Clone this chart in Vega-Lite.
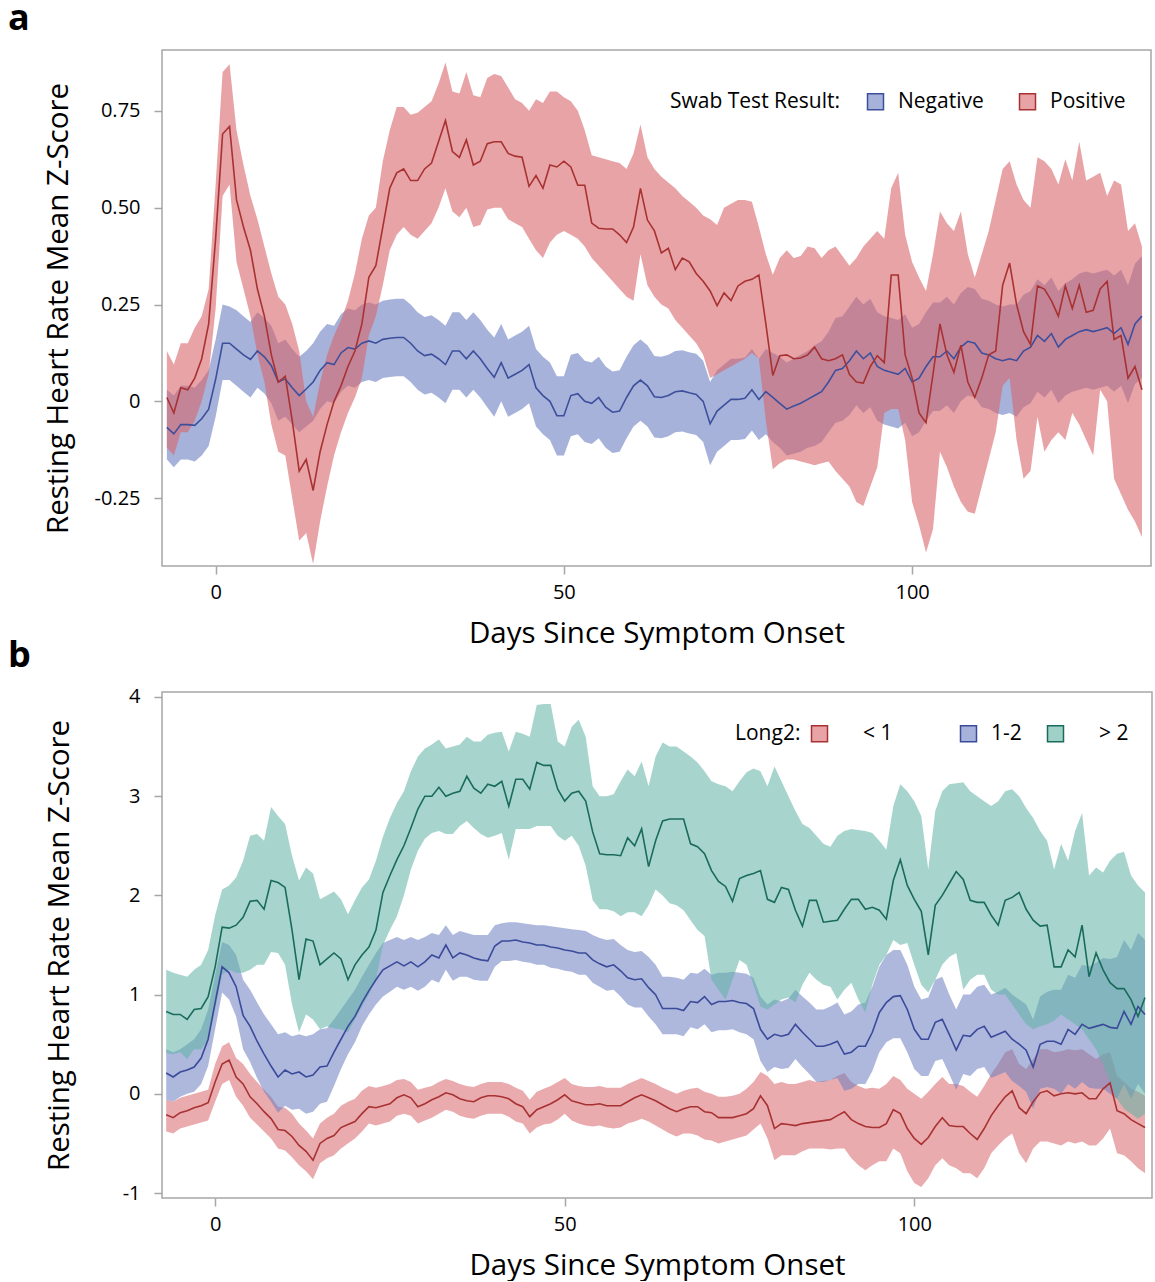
{
"$schema": "https://vega.github.io/schema/vega-lite/v6.json",
"padding": {"left": 7, "top": 0, "right": 0, "bottom": 0},
"background": "white",
"spacing": -12,
"resolve": {"scale": {"fill": "independent", "stroke": "independent", "x": "independent", "y": "independent"}, "legend": {"fill": "independent", "stroke": "independent"}},
"config": {
  "font": "Open Sans",
  "view": {"stroke": "#a6a6a6", "strokeWidth": 1.5},
  "axis": {"domain": false, "grid": false, "tickColor": "#a6a6a6", "tickSize": 8, "tickWidth": 1.5, "labelFontSize": 20, "labelColor": "#000", "titleFontSize": 29.5, "titleFontWeight": "normal", "titleColor": "#000"},
  "axisX": {"labelPadding": 8},
  "axisY": {"labelPadding": 14},
  "legend": {"direction": "horizontal", "titleOrient": "left", "symbolType": "square", "symbolSize": 256, "symbolStrokeWidth": 1.5, "symbolStrokeColor": "#333", "labelFontSize": 21, "titleFontSize": 21, "titleFontWeight": "normal", "titleColor": "#000", "labelColor": "#000", "labelOffset": 12, "orient": "none", "titleLimit": 400, "labelLimit": 300},
  "title": {"fontSize": 36, "fontWeight": "bold", "anchor": "start", "frame": "group", "dx": -154, "offset": 12, "color": "#000"}
},
"datasets": {
"a": [
{"d":-7,"g":"Negative","m":-0.067,"lo":-0.15,"hi":0.03},
{"d":-6,"g":"Negative","m":-0.084,"lo":-0.17,"hi":0.015},
{"d":-5,"g":"Negative","m":-0.06,"lo":-0.15,"hi":0.04},
{"d":-4,"g":"Negative","m":-0.06,"lo":-0.15,"hi":0.04},
{"d":-3,"g":"Negative","m":-0.062,"lo":-0.155,"hi":0.035},
{"d":-2,"g":"Negative","m":-0.045,"lo":-0.14,"hi":0.055},
{"d":-1,"g":"Negative","m":-0.02,"lo":-0.115,"hi":0.08},
{"d":0,"g":"Negative","m":0.057,"lo":-0.04,"hi":0.16},
{"d":1,"g":"Negative","m":0.15,"lo":0.055,"hi":0.25},
{"d":2,"g":"Negative","m":0.15,"lo":0.055,"hi":0.245},
{"d":3,"g":"Negative","m":0.135,"lo":0.04,"hi":0.235},
{"d":4,"g":"Negative","m":0.12,"lo":0.025,"hi":0.22},
{"d":5,"g":"Negative","m":0.108,"lo":0.01,"hi":0.205},
{"d":6,"g":"Negative","m":0.13,"lo":0.035,"hi":0.23},
{"d":7,"g":"Negative","m":0.115,"lo":0.02,"hi":0.215},
{"d":8,"g":"Negative","m":0.092,"lo":-0.005,"hi":0.195},
{"d":9,"g":"Negative","m":0.05,"lo":-0.05,"hi":0.15},
{"d":10,"g":"Negative","m":0.058,"lo":-0.04,"hi":0.16},
{"d":11,"g":"Negative","m":0.035,"lo":-0.06,"hi":0.135},
{"d":12,"g":"Negative","m":0.015,"lo":-0.08,"hi":0.115},
{"d":13,"g":"Negative","m":0.032,"lo":-0.065,"hi":0.13},
{"d":14,"g":"Negative","m":0.05,"lo":-0.05,"hi":0.15},
{"d":15,"g":"Negative","m":0.08,"lo":-0.02,"hi":0.18},
{"d":16,"g":"Negative","m":0.1,"lo":0.0,"hi":0.2},
{"d":17,"g":"Negative","m":0.095,"lo":-0.005,"hi":0.195},
{"d":18,"g":"Negative","m":0.125,"lo":0.025,"hi":0.225},
{"d":19,"g":"Negative","m":0.139,"lo":0.04,"hi":0.24},
{"d":20,"g":"Negative","m":0.135,"lo":0.035,"hi":0.235},
{"d":21,"g":"Negative","m":0.15,"lo":0.05,"hi":0.25},
{"d":22,"g":"Negative","m":0.156,"lo":0.055,"hi":0.255},
{"d":23,"g":"Negative","m":0.15,"lo":0.05,"hi":0.25},
{"d":24,"g":"Negative","m":0.16,"lo":0.06,"hi":0.26},
{"d":25,"g":"Negative","m":0.163,"lo":0.063,"hi":0.263},
{"d":26,"g":"Negative","m":0.165,"lo":0.065,"hi":0.265},
{"d":27,"g":"Negative","m":0.165,"lo":0.065,"hi":0.265},
{"d":28,"g":"Negative","m":0.15,"lo":0.05,"hi":0.25},
{"d":29,"g":"Negative","m":0.13,"lo":0.03,"hi":0.23},
{"d":30,"g":"Negative","m":0.118,"lo":0.018,"hi":0.218},
{"d":31,"g":"Negative","m":0.122,"lo":0.022,"hi":0.222},
{"d":32,"g":"Negative","m":0.11,"lo":0.01,"hi":0.21},
{"d":33,"g":"Negative","m":0.095,"lo":-0.005,"hi":0.195},
{"d":34,"g":"Negative","m":0.13,"lo":0.03,"hi":0.23},
{"d":35,"g":"Negative","m":0.13,"lo":0.03,"hi":0.23},
{"d":36,"g":"Negative","m":0.11,"lo":0.01,"hi":0.21},
{"d":37,"g":"Negative","m":0.13,"lo":0.03,"hi":0.23},
{"d":38,"g":"Negative","m":0.11,"lo":0.01,"hi":0.21},
{"d":39,"g":"Negative","m":0.085,"lo":-0.015,"hi":0.185},
{"d":40,"g":"Negative","m":0.062,"lo":-0.04,"hi":0.165},
{"d":41,"g":"Negative","m":0.1,"lo":0.0,"hi":0.2},
{"d":42,"g":"Negative","m":0.06,"lo":-0.04,"hi":0.16},
{"d":43,"g":"Negative","m":0.07,"lo":-0.03,"hi":0.17},
{"d":44,"g":"Negative","m":0.08,"lo":-0.02,"hi":0.18},
{"d":45,"g":"Negative","m":0.095,"lo":-0.005,"hi":0.195},
{"d":46,"g":"Negative","m":0.035,"lo":-0.065,"hi":0.135},
{"d":47,"g":"Negative","m":0.015,"lo":-0.085,"hi":0.115},
{"d":48,"g":"Negative","m":0.0,"lo":-0.1,"hi":0.1},
{"d":49,"g":"Negative","m":-0.037,"lo":-0.14,"hi":0.065},
{"d":50,"g":"Negative","m":-0.037,"lo":-0.14,"hi":0.065},
{"d":51,"g":"Negative","m":0.015,"lo":-0.09,"hi":0.12},
{"d":52,"g":"Negative","m":0.02,"lo":-0.085,"hi":0.125},
{"d":53,"g":"Negative","m":0.0,"lo":-0.105,"hi":0.105},
{"d":54,"g":"Negative","m":-0.005,"lo":-0.11,"hi":0.1},
{"d":55,"g":"Negative","m":0.01,"lo":-0.095,"hi":0.115},
{"d":56,"g":"Negative","m":-0.015,"lo":-0.12,"hi":0.09},
{"d":57,"g":"Negative","m":-0.028,"lo":-0.133,"hi":0.077},
{"d":58,"g":"Negative","m":-0.025,"lo":-0.13,"hi":0.08},
{"d":59,"g":"Negative","m":0.01,"lo":-0.095,"hi":0.115},
{"d":60,"g":"Negative","m":0.04,"lo":-0.065,"hi":0.145},
{"d":61,"g":"Negative","m":0.055,"lo":-0.05,"hi":0.16},
{"d":62,"g":"Negative","m":0.04,"lo":-0.065,"hi":0.145},
{"d":63,"g":"Negative","m":0.012,"lo":-0.093,"hi":0.117},
{"d":64,"g":"Negative","m":0.01,"lo":-0.095,"hi":0.115},
{"d":65,"g":"Negative","m":0.015,"lo":-0.09,"hi":0.12},
{"d":66,"g":"Negative","m":0.025,"lo":-0.08,"hi":0.13},
{"d":67,"g":"Negative","m":0.027,"lo":-0.078,"hi":0.132},
{"d":68,"g":"Negative","m":0.022,"lo":-0.083,"hi":0.127},
{"d":69,"g":"Negative","m":0.018,"lo":-0.087,"hi":0.123},
{"d":70,"g":"Negative","m":0.0,"lo":-0.105,"hi":0.105},
{"d":71,"g":"Negative","m":-0.058,"lo":-0.165,"hi":0.05},
{"d":72,"g":"Negative","m":-0.025,"lo":-0.13,"hi":0.08},
{"d":73,"g":"Negative","m":-0.01,"lo":-0.115,"hi":0.095},
{"d":74,"g":"Negative","m":0.005,"lo":-0.1,"hi":0.11},
{"d":75,"g":"Negative","m":0.005,"lo":-0.1,"hi":0.11},
{"d":76,"g":"Negative","m":0.008,"lo":-0.097,"hi":0.113},
{"d":77,"g":"Negative","m":0.03,"lo":-0.075,"hi":0.135},
{"d":78,"g":"Negative","m":0.005,"lo":-0.1,"hi":0.11},
{"d":79,"g":"Negative","m":0.025,"lo":-0.085,"hi":0.135},
{"d":80,"g":"Negative","m":0.01,"lo":-0.105,"hi":0.125},
{"d":81,"g":"Negative","m":-0.005,"lo":-0.12,"hi":0.115},
{"d":82,"g":"Negative","m":-0.02,"lo":-0.14,"hi":0.1},
{"d":83,"g":"Negative","m":-0.012,"lo":-0.135,"hi":0.11},
{"d":84,"g":"Negative","m":-0.005,"lo":-0.13,"hi":0.12},
{"d":85,"g":"Negative","m":0.005,"lo":-0.12,"hi":0.13},
{"d":86,"g":"Negative","m":0.015,"lo":-0.115,"hi":0.145},
{"d":87,"g":"Negative","m":0.025,"lo":-0.105,"hi":0.155},
{"d":88,"g":"Negative","m":0.05,"lo":-0.08,"hi":0.18},
{"d":89,"g":"Negative","m":0.08,"lo":-0.055,"hi":0.215},
{"d":90,"g":"Negative","m":0.085,"lo":-0.05,"hi":0.22},
{"d":91,"g":"Negative","m":0.105,"lo":-0.035,"hi":0.245},
{"d":92,"g":"Negative","m":0.13,"lo":-0.01,"hi":0.27},
{"d":93,"g":"Negative","m":0.11,"lo":-0.03,"hi":0.25},
{"d":94,"g":"Negative","m":0.125,"lo":-0.015,"hi":0.265},
{"d":95,"g":"Negative","m":0.09,"lo":-0.05,"hi":0.23},
{"d":96,"g":"Negative","m":0.08,"lo":-0.06,"hi":0.22},
{"d":97,"g":"Negative","m":0.075,"lo":-0.065,"hi":0.215},
{"d":98,"g":"Negative","m":0.07,"lo":-0.07,"hi":0.21},
{"d":99,"g":"Negative","m":0.085,"lo":-0.055,"hi":0.225},
{"d":100,"g":"Negative","m":0.05,"lo":-0.09,"hi":0.19},
{"d":101,"g":"Negative","m":0.06,"lo":-0.08,"hi":0.2},
{"d":102,"g":"Negative","m":0.09,"lo":-0.05,"hi":0.23},
{"d":103,"g":"Negative","m":0.115,"lo":-0.025,"hi":0.255},
{"d":104,"g":"Negative","m":0.115,"lo":-0.025,"hi":0.255},
{"d":105,"g":"Negative","m":0.13,"lo":-0.01,"hi":0.27},
{"d":106,"g":"Negative","m":0.11,"lo":-0.03,"hi":0.25},
{"d":107,"g":"Negative","m":0.14,"lo":0.0,"hi":0.28},
{"d":108,"g":"Negative","m":0.155,"lo":0.015,"hi":0.295},
{"d":109,"g":"Negative","m":0.15,"lo":0.01,"hi":0.29},
{"d":110,"g":"Negative","m":0.125,"lo":-0.015,"hi":0.265},
{"d":111,"g":"Negative","m":0.12,"lo":-0.02,"hi":0.26},
{"d":112,"g":"Negative","m":0.11,"lo":-0.03,"hi":0.25},
{"d":113,"g":"Negative","m":0.105,"lo":-0.035,"hi":0.245},
{"d":114,"g":"Negative","m":0.11,"lo":-0.03,"hi":0.25},
{"d":115,"g":"Negative","m":0.105,"lo":-0.04,"hi":0.25},
{"d":116,"g":"Negative","m":0.13,"lo":-0.015,"hi":0.275},
{"d":117,"g":"Negative","m":0.14,"lo":-0.005,"hi":0.285},
{"d":118,"g":"Negative","m":0.17,"lo":0.025,"hi":0.315},
{"d":119,"g":"Negative","m":0.155,"lo":0.01,"hi":0.3},
{"d":120,"g":"Negative","m":0.175,"lo":0.03,"hi":0.32},
{"d":121,"g":"Negative","m":0.14,"lo":-0.005,"hi":0.285},
{"d":122,"g":"Negative","m":0.16,"lo":0.015,"hi":0.305},
{"d":123,"g":"Negative","m":0.17,"lo":0.025,"hi":0.315},
{"d":124,"g":"Negative","m":0.18,"lo":0.03,"hi":0.33},
{"d":125,"g":"Negative","m":0.185,"lo":0.035,"hi":0.335},
{"d":126,"g":"Negative","m":0.18,"lo":0.03,"hi":0.33},
{"d":127,"g":"Negative","m":0.185,"lo":0.035,"hi":0.335},
{"d":128,"g":"Negative","m":0.19,"lo":0.04,"hi":0.34},
{"d":129,"g":"Negative","m":0.175,"lo":0.025,"hi":0.325},
{"d":130,"g":"Negative","m":0.19,"lo":0.04,"hi":0.34},
{"d":131,"g":"Negative","m":0.147,"lo":-0.005,"hi":0.3},
{"d":132,"g":"Negative","m":0.2,"lo":0.045,"hi":0.355},
{"d":133,"g":"Negative","m":0.22,"lo":0.06,"hi":0.375},
{"d":-7,"g":"Positive","m":0.01,"lo":-0.12,"hi":0.13},
{"d":-6,"g":"Positive","m":-0.03,"lo":-0.14,"hi":0.095},
{"d":-5,"g":"Positive","m":0.035,"lo":-0.08,"hi":0.15},
{"d":-4,"g":"Positive","m":0.03,"lo":-0.08,"hi":0.15},
{"d":-3,"g":"Positive","m":0.06,"lo":-0.05,"hi":0.19},
{"d":-2,"g":"Positive","m":0.11,"lo":0.0,"hi":0.22},
{"d":-1,"g":"Positive","m":0.2,"lo":0.07,"hi":0.29},
{"d":0,"g":"Positive","m":0.42,"lo":0.24,"hi":0.56},
{"d":1,"g":"Positive","m":0.69,"lo":0.53,"hi":0.85},
{"d":2,"g":"Positive","m":0.71,"lo":0.56,"hi":0.87},
{"d":3,"g":"Positive","m":0.52,"lo":0.36,"hi":0.7},
{"d":4,"g":"Positive","m":0.45,"lo":0.29,"hi":0.61},
{"d":5,"g":"Positive","m":0.39,"lo":0.22,"hi":0.53},
{"d":6,"g":"Positive","m":0.29,"lo":0.12,"hi":0.47},
{"d":7,"g":"Positive","m":0.22,"lo":0.05,"hi":0.4},
{"d":8,"g":"Positive","m":0.12,"lo":-0.06,"hi":0.33},
{"d":9,"g":"Positive","m":0.05,"lo":-0.13,"hi":0.27},
{"d":10,"g":"Positive","m":0.065,"lo":-0.14,"hi":0.25},
{"d":11,"g":"Positive","m":-0.05,"lo":-0.25,"hi":0.2},
{"d":12,"g":"Positive","m":-0.18,"lo":-0.36,"hi":0.13},
{"d":13,"g":"Positive","m":-0.15,"lo":-0.34,"hi":0.0},
{"d":14,"g":"Positive","m":-0.23,"lo":-0.42,"hi":-0.04},
{"d":15,"g":"Positive","m":-0.13,"lo":-0.31,"hi":0.05},
{"d":16,"g":"Positive","m":-0.06,"lo":-0.22,"hi":0.12},
{"d":17,"g":"Positive","m":0.0,"lo":-0.14,"hi":0.17},
{"d":18,"g":"Positive","m":0.04,"lo":-0.08,"hi":0.21},
{"d":19,"g":"Positive","m":0.09,"lo":-0.03,"hi":0.26},
{"d":20,"g":"Positive","m":0.13,"lo":0.01,"hi":0.33},
{"d":21,"g":"Positive","m":0.2,"lo":0.06,"hi":0.42},
{"d":22,"g":"Positive","m":0.32,"lo":0.17,"hi":0.48},
{"d":23,"g":"Positive","m":0.35,"lo":0.22,"hi":0.5},
{"d":24,"g":"Positive","m":0.45,"lo":0.3,"hi":0.62},
{"d":25,"g":"Positive","m":0.55,"lo":0.39,"hi":0.7},
{"d":26,"g":"Positive","m":0.59,"lo":0.43,"hi":0.76},
{"d":27,"g":"Positive","m":0.6,"lo":0.45,"hi":0.76},
{"d":28,"g":"Positive","m":0.57,"lo":0.43,"hi":0.74},
{"d":29,"g":"Positive","m":0.57,"lo":0.42,"hi":0.745},
{"d":30,"g":"Positive","m":0.6,"lo":0.44,"hi":0.76},
{"d":31,"g":"Positive","m":0.615,"lo":0.46,"hi":0.775},
{"d":32,"g":"Positive","m":0.67,"lo":0.5,"hi":0.82},
{"d":33,"g":"Positive","m":0.725,"lo":0.55,"hi":0.875},
{"d":34,"g":"Positive","m":0.645,"lo":0.49,"hi":0.8},
{"d":35,"g":"Positive","m":0.63,"lo":0.475,"hi":0.795},
{"d":36,"g":"Positive","m":0.675,"lo":0.5,"hi":0.85},
{"d":37,"g":"Positive","m":0.61,"lo":0.45,"hi":0.79},
{"d":38,"g":"Positive","m":0.62,"lo":0.455,"hi":0.785},
{"d":39,"g":"Positive","m":0.665,"lo":0.495,"hi":0.835},
{"d":40,"g":"Positive","m":0.67,"lo":0.5,"hi":0.845},
{"d":41,"g":"Positive","m":0.67,"lo":0.5,"hi":0.84},
{"d":42,"g":"Positive","m":0.64,"lo":0.47,"hi":0.81},
{"d":43,"g":"Positive","m":0.633,"lo":0.46,"hi":0.78},
{"d":44,"g":"Positive","m":0.63,"lo":0.45,"hi":0.77},
{"d":45,"g":"Positive","m":0.555,"lo":0.42,"hi":0.75},
{"d":46,"g":"Positive","m":0.583,"lo":0.39,"hi":0.78},
{"d":47,"g":"Positive","m":0.55,"lo":0.37,"hi":0.77},
{"d":48,"g":"Positive","m":0.61,"lo":0.41,"hi":0.8},
{"d":49,"g":"Positive","m":0.605,"lo":0.43,"hi":0.8},
{"d":50,"g":"Positive","m":0.62,"lo":0.44,"hi":0.785},
{"d":51,"g":"Positive","m":0.605,"lo":0.43,"hi":0.775},
{"d":52,"g":"Positive","m":0.558,"lo":0.42,"hi":0.75},
{"d":53,"g":"Positive","m":0.558,"lo":0.4,"hi":0.7},
{"d":54,"g":"Positive","m":0.46,"lo":0.37,"hi":0.635},
{"d":55,"g":"Positive","m":0.447,"lo":0.35,"hi":0.63},
{"d":56,"g":"Positive","m":0.445,"lo":0.33,"hi":0.625},
{"d":57,"g":"Positive","m":0.445,"lo":0.31,"hi":0.62},
{"d":58,"g":"Positive","m":0.43,"lo":0.29,"hi":0.615},
{"d":59,"g":"Positive","m":0.41,"lo":0.27,"hi":0.6},
{"d":60,"g":"Positive","m":0.45,"lo":0.26,"hi":0.64},
{"d":61,"g":"Positive","m":0.55,"lo":0.38,"hi":0.715},
{"d":62,"g":"Positive","m":0.468,"lo":0.3,"hi":0.63},
{"d":63,"g":"Positive","m":0.44,"lo":0.27,"hi":0.6},
{"d":64,"g":"Positive","m":0.383,"lo":0.25,"hi":0.58},
{"d":65,"g":"Positive","m":0.395,"lo":0.24,"hi":0.565},
{"d":66,"g":"Positive","m":0.34,"lo":0.21,"hi":0.55},
{"d":67,"g":"Positive","m":0.37,"lo":0.19,"hi":0.53},
{"d":68,"g":"Positive","m":0.36,"lo":0.17,"hi":0.515},
{"d":69,"g":"Positive","m":0.33,"lo":0.15,"hi":0.5},
{"d":70,"g":"Positive","m":0.31,"lo":0.12,"hi":0.48},
{"d":71,"g":"Positive","m":0.285,"lo":0.06,"hi":0.47},
{"d":72,"g":"Positive","m":0.247,"lo":0.07,"hi":0.455},
{"d":73,"g":"Positive","m":0.28,"lo":0.08,"hi":0.5},
{"d":74,"g":"Positive","m":0.26,"lo":0.09,"hi":0.51},
{"d":75,"g":"Positive","m":0.298,"lo":0.1,"hi":0.52},
{"d":76,"g":"Positive","m":0.31,"lo":0.11,"hi":0.52},
{"d":77,"g":"Positive","m":0.315,"lo":0.125,"hi":0.515},
{"d":78,"g":"Positive","m":0.326,"lo":0.11,"hi":0.45},
{"d":79,"g":"Positive","m":0.2,"lo":-0.05,"hi":0.38},
{"d":80,"g":"Positive","m":0.067,"lo":-0.175,"hi":0.327},
{"d":81,"g":"Positive","m":0.118,"lo":-0.16,"hi":0.37},
{"d":82,"g":"Positive","m":0.12,"lo":-0.15,"hi":0.39},
{"d":83,"g":"Positive","m":0.11,"lo":-0.15,"hi":0.37},
{"d":84,"g":"Positive","m":0.112,"lo":-0.155,"hi":0.375},
{"d":85,"g":"Positive","m":0.12,"lo":-0.16,"hi":0.4},
{"d":86,"g":"Positive","m":0.14,"lo":-0.165,"hi":0.395},
{"d":87,"g":"Positive","m":0.11,"lo":-0.16,"hi":0.37},
{"d":88,"g":"Positive","m":0.105,"lo":-0.155,"hi":0.39},
{"d":89,"g":"Positive","m":0.11,"lo":-0.18,"hi":0.4},
{"d":90,"g":"Positive","m":0.12,"lo":-0.2,"hi":0.375},
{"d":91,"g":"Positive","m":0.07,"lo":-0.22,"hi":0.35},
{"d":92,"g":"Positive","m":0.05,"lo":-0.26,"hi":0.37},
{"d":93,"g":"Positive","m":0.047,"lo":-0.27,"hi":0.4},
{"d":94,"g":"Positive","m":0.09,"lo":-0.22,"hi":0.42},
{"d":95,"g":"Positive","m":0.118,"lo":-0.17,"hi":0.44},
{"d":96,"g":"Positive","m":0.1,"lo":-0.03,"hi":0.42},
{"d":97,"g":"Positive","m":0.326,"lo":-0.02,"hi":0.55},
{"d":98,"g":"Positive","m":0.326,"lo":-0.02,"hi":0.59},
{"d":99,"g":"Positive","m":0.12,"lo":-0.1,"hi":0.43},
{"d":100,"g":"Positive","m":0.06,"lo":-0.26,"hi":0.36},
{"d":101,"g":"Positive","m":-0.03,"lo":-0.32,"hi":0.32},
{"d":102,"g":"Positive","m":-0.055,"lo":-0.39,"hi":0.285},
{"d":103,"g":"Positive","m":0.07,"lo":-0.33,"hi":0.38},
{"d":104,"g":"Positive","m":0.2,"lo":-0.13,"hi":0.49},
{"d":105,"g":"Positive","m":0.12,"lo":-0.17,"hi":0.46},
{"d":106,"g":"Positive","m":0.075,"lo":-0.22,"hi":0.44},
{"d":107,"g":"Positive","m":0.145,"lo":-0.26,"hi":0.49},
{"d":108,"g":"Positive","m":0.05,"lo":-0.285,"hi":0.38},
{"d":109,"g":"Positive","m":0.01,"lo":-0.29,"hi":0.32},
{"d":110,"g":"Positive","m":0.06,"lo":-0.22,"hi":0.38},
{"d":111,"g":"Positive","m":0.12,"lo":-0.15,"hi":0.44},
{"d":112,"g":"Positive","m":0.13,"lo":-0.08,"hi":0.52},
{"d":113,"g":"Positive","m":0.3,"lo":0.04,"hi":0.6},
{"d":114,"g":"Positive","m":0.357,"lo":0.06,"hi":0.62},
{"d":115,"g":"Positive","m":0.25,"lo":-0.1,"hi":0.56},
{"d":116,"g":"Positive","m":0.18,"lo":-0.2,"hi":0.52},
{"d":117,"g":"Positive","m":0.147,"lo":-0.18,"hi":0.5},
{"d":118,"g":"Positive","m":0.298,"lo":-0.04,"hi":0.63},
{"d":119,"g":"Positive","m":0.29,"lo":-0.13,"hi":0.62},
{"d":120,"g":"Positive","m":0.26,"lo":-0.1,"hi":0.6},
{"d":121,"g":"Positive","m":0.22,"lo":-0.08,"hi":0.56},
{"d":122,"g":"Positive","m":0.298,"lo":-0.1,"hi":0.625},
{"d":123,"g":"Positive","m":0.24,"lo":-0.03,"hi":0.57},
{"d":124,"g":"Positive","m":0.3,"lo":-0.06,"hi":0.67},
{"d":125,"g":"Positive","m":0.23,"lo":-0.1,"hi":0.57},
{"d":126,"g":"Positive","m":0.235,"lo":-0.14,"hi":0.58},
{"d":127,"g":"Positive","m":0.29,"lo":0.03,"hi":0.59},
{"d":128,"g":"Positive","m":0.31,"lo":0.0,"hi":0.53},
{"d":129,"g":"Positive","m":0.16,"lo":-0.2,"hi":0.57},
{"d":130,"g":"Positive","m":0.17,"lo":-0.24,"hi":0.56},
{"d":131,"g":"Positive","m":0.06,"lo":-0.28,"hi":0.44},
{"d":132,"g":"Positive","m":0.09,"lo":-0.31,"hi":0.46},
{"d":133,"g":"Positive","m":0.03,"lo":-0.35,"hi":0.4}
],
"b": [
{"d":-7,"g":"< 1","m":-0.21,"lo":-0.38,"hi":-0.06},
{"d":-6,"g":"< 1","m":-0.24,"lo":-0.4,"hi":-0.08},
{"d":-5,"g":"< 1","m":-0.19,"lo":-0.35,"hi":-0.04},
{"d":-4,"g":"< 1","m":-0.17,"lo":-0.33,"hi":-0.02},
{"d":-3,"g":"< 1","m":-0.14,"lo":-0.31,"hi":0.0},
{"d":-2,"g":"< 1","m":-0.12,"lo":-0.29,"hi":0.02},
{"d":-1,"g":"< 1","m":-0.09,"lo":-0.27,"hi":0.04},
{"d":0,"g":"< 1","m":0.12,"lo":-0.08,"hi":0.3},
{"d":1,"g":"< 1","m":0.3,"lo":0.1,"hi":0.48},
{"d":2,"g":"< 1","m":0.34,"lo":0.14,"hi":0.52},
{"d":3,"g":"< 1","m":0.17,"lo":-0.03,"hi":0.36},
{"d":4,"g":"< 1","m":0.1,"lo":-0.12,"hi":0.3},
{"d":5,"g":"< 1","m":-0.03,"lo":-0.24,"hi":0.2},
{"d":6,"g":"< 1","m":-0.1,"lo":-0.31,"hi":0.12},
{"d":7,"g":"< 1","m":-0.18,"lo":-0.38,"hi":0.04},
{"d":8,"g":"< 1","m":-0.25,"lo":-0.45,"hi":-0.03},
{"d":9,"g":"< 1","m":-0.36,"lo":-0.55,"hi":-0.13},
{"d":10,"g":"< 1","m":-0.37,"lo":-0.57,"hi":-0.14},
{"d":11,"g":"< 1","m":-0.43,"lo":-0.64,"hi":-0.2},
{"d":12,"g":"< 1","m":-0.52,"lo":-0.72,"hi":-0.3},
{"d":13,"g":"< 1","m":-0.58,"lo":-0.78,"hi":-0.37},
{"d":14,"g":"< 1","m":-0.67,"lo":-0.86,"hi":-0.45},
{"d":15,"g":"< 1","m":-0.5,"lo":-0.7,"hi":-0.3},
{"d":16,"g":"< 1","m":-0.45,"lo":-0.65,"hi":-0.24},
{"d":17,"g":"< 1","m":-0.42,"lo":-0.62,"hi":-0.2},
{"d":18,"g":"< 1","m":-0.34,"lo":-0.55,"hi":-0.12},
{"d":19,"g":"< 1","m":-0.31,"lo":-0.5,"hi":-0.08},
{"d":20,"g":"< 1","m":-0.28,"lo":-0.45,"hi":-0.05},
{"d":21,"g":"< 1","m":-0.2,"lo":-0.38,"hi":0.03},
{"d":22,"g":"< 1","m":-0.13,"lo":-0.3,"hi":0.08},
{"d":23,"g":"< 1","m":-0.14,"lo":-0.32,"hi":0.06},
{"d":24,"g":"< 1","m":-0.12,"lo":-0.3,"hi":0.08},
{"d":25,"g":"< 1","m":-0.1,"lo":-0.28,"hi":0.1},
{"d":26,"g":"< 1","m":-0.04,"lo":-0.22,"hi":0.14},
{"d":27,"g":"< 1","m":-0.01,"lo":-0.2,"hi":0.15},
{"d":28,"g":"< 1","m":-0.04,"lo":-0.22,"hi":0.12},
{"d":29,"g":"< 1","m":-0.13,"lo":-0.3,"hi":0.04},
{"d":30,"g":"< 1","m":-0.1,"lo":-0.27,"hi":0.06},
{"d":31,"g":"< 1","m":-0.06,"lo":-0.24,"hi":0.08},
{"d":32,"g":"< 1","m":-0.03,"lo":-0.2,"hi":0.12},
{"d":33,"g":"< 1","m":0.01,"lo":-0.16,"hi":0.15},
{"d":34,"g":"< 1","m":-0.01,"lo":-0.18,"hi":0.13},
{"d":35,"g":"< 1","m":-0.05,"lo":-0.22,"hi":0.1},
{"d":36,"g":"< 1","m":-0.07,"lo":-0.24,"hi":0.08},
{"d":37,"g":"< 1","m":-0.08,"lo":-0.25,"hi":0.07},
{"d":38,"g":"< 1","m":-0.04,"lo":-0.22,"hi":0.1},
{"d":39,"g":"< 1","m":-0.02,"lo":-0.2,"hi":0.12},
{"d":40,"g":"< 1","m":-0.02,"lo":-0.2,"hi":0.12},
{"d":41,"g":"< 1","m":-0.03,"lo":-0.2,"hi":0.12},
{"d":42,"g":"< 1","m":-0.05,"lo":-0.23,"hi":0.1},
{"d":43,"g":"< 1","m":-0.1,"lo":-0.28,"hi":0.06},
{"d":44,"g":"< 1","m":-0.13,"lo":-0.3,"hi":0.03},
{"d":45,"g":"< 1","m":-0.23,"lo":-0.4,"hi":-0.06},
{"d":46,"g":"< 1","m":-0.16,"lo":-0.34,"hi":0.02},
{"d":47,"g":"< 1","m":-0.13,"lo":-0.31,"hi":0.05},
{"d":48,"g":"< 1","m":-0.1,"lo":-0.3,"hi":0.08},
{"d":49,"g":"< 1","m":-0.06,"lo":-0.26,"hi":0.12},
{"d":50,"g":"< 1","m":-0.01,"lo":-0.2,"hi":0.16},
{"d":51,"g":"< 1","m":-0.07,"lo":-0.27,"hi":0.1},
{"d":52,"g":"< 1","m":-0.09,"lo":-0.3,"hi":0.08},
{"d":53,"g":"< 1","m":-0.11,"lo":-0.32,"hi":0.07},
{"d":54,"g":"< 1","m":-0.11,"lo":-0.33,"hi":0.07},
{"d":55,"g":"< 1","m":-0.1,"lo":-0.32,"hi":0.08},
{"d":56,"g":"< 1","m":-0.12,"lo":-0.34,"hi":0.06},
{"d":57,"g":"< 1","m":-0.12,"lo":-0.35,"hi":0.06},
{"d":58,"g":"< 1","m":-0.12,"lo":-0.34,"hi":0.06},
{"d":59,"g":"< 1","m":-0.08,"lo":-0.3,"hi":0.1},
{"d":60,"g":"< 1","m":-0.04,"lo":-0.28,"hi":0.13},
{"d":61,"g":"< 1","m":-0.01,"lo":-0.25,"hi":0.16},
{"d":62,"g":"< 1","m":-0.04,"lo":-0.28,"hi":0.13},
{"d":63,"g":"< 1","m":-0.07,"lo":-0.32,"hi":0.1},
{"d":64,"g":"< 1","m":-0.11,"lo":-0.36,"hi":0.06},
{"d":65,"g":"< 1","m":-0.15,"lo":-0.4,"hi":0.03},
{"d":66,"g":"< 1","m":-0.18,"lo":-0.43,"hi":0.0},
{"d":67,"g":"< 1","m":-0.15,"lo":-0.4,"hi":0.03},
{"d":68,"g":"< 1","m":-0.13,"lo":-0.4,"hi":0.05},
{"d":69,"g":"< 1","m":-0.13,"lo":-0.42,"hi":0.06},
{"d":70,"g":"< 1","m":-0.18,"lo":-0.46,"hi":0.02},
{"d":71,"g":"< 1","m":-0.19,"lo":-0.47,"hi":0.0},
{"d":72,"g":"< 1","m":-0.24,"lo":-0.5,"hi":-0.03},
{"d":73,"g":"< 1","m":-0.24,"lo":-0.48,"hi":-0.03},
{"d":74,"g":"< 1","m":-0.24,"lo":-0.46,"hi":-0.02},
{"d":75,"g":"< 1","m":-0.22,"lo":-0.44,"hi":0.0},
{"d":76,"g":"< 1","m":-0.2,"lo":-0.42,"hi":0.05},
{"d":77,"g":"< 1","m":-0.15,"lo":-0.36,"hi":0.12},
{"d":78,"g":"< 1","m":-0.02,"lo":-0.3,"hi":0.22},
{"d":79,"g":"< 1","m":-0.12,"lo":-0.45,"hi":0.18},
{"d":80,"g":"< 1","m":-0.35,"lo":-0.67,"hi":0.1},
{"d":81,"g":"< 1","m":-0.3,"lo":-0.62,"hi":0.12},
{"d":82,"g":"< 1","m":-0.31,"lo":-0.62,"hi":0.1},
{"d":83,"g":"< 1","m":-0.32,"lo":-0.62,"hi":0.1},
{"d":84,"g":"< 1","m":-0.3,"lo":-0.58,"hi":0.12},
{"d":85,"g":"< 1","m":-0.29,"lo":-0.55,"hi":0.14},
{"d":86,"g":"< 1","m":-0.28,"lo":-0.55,"hi":0.12},
{"d":87,"g":"< 1","m":-0.27,"lo":-0.55,"hi":0.13},
{"d":88,"g":"< 1","m":-0.26,"lo":-0.56,"hi":0.14},
{"d":89,"g":"< 1","m":-0.22,"lo":-0.55,"hi":0.18},
{"d":90,"g":"< 1","m":-0.18,"lo":-0.55,"hi":0.21},
{"d":91,"g":"< 1","m":-0.26,"lo":-0.65,"hi":0.12},
{"d":92,"g":"< 1","m":-0.3,"lo":-0.72,"hi":0.08},
{"d":93,"g":"< 1","m":-0.33,"lo":-0.77,"hi":0.05},
{"d":94,"g":"< 1","m":-0.34,"lo":-0.72,"hi":0.06},
{"d":95,"g":"< 1","m":-0.34,"lo":-0.68,"hi":0.05},
{"d":96,"g":"< 1","m":-0.3,"lo":-0.68,"hi":0.1},
{"d":97,"g":"< 1","m":-0.16,"lo":-0.55,"hi":0.18},
{"d":98,"g":"< 1","m":-0.2,"lo":-0.6,"hi":0.14},
{"d":99,"g":"< 1","m":-0.35,"lo":-0.78,"hi":0.05},
{"d":100,"g":"< 1","m":-0.45,"lo":-0.9,"hi":0.0},
{"d":101,"g":"< 1","m":-0.51,"lo":-0.94,"hi":-0.05},
{"d":102,"g":"< 1","m":-0.44,"lo":-0.85,"hi":0.02},
{"d":103,"g":"< 1","m":-0.33,"lo":-0.72,"hi":0.1},
{"d":104,"g":"< 1","m":-0.24,"lo":-0.65,"hi":0.17},
{"d":105,"g":"< 1","m":-0.32,"lo":-0.72,"hi":0.1},
{"d":106,"g":"< 1","m":-0.33,"lo":-0.75,"hi":0.1},
{"d":107,"g":"< 1","m":-0.33,"lo":-0.8,"hi":0.08},
{"d":108,"g":"< 1","m":-0.4,"lo":-0.8,"hi":0.02},
{"d":109,"g":"< 1","m":-0.46,"lo":-0.85,"hi":-0.03},
{"d":110,"g":"< 1","m":-0.35,"lo":-0.75,"hi":0.08},
{"d":111,"g":"< 1","m":-0.22,"lo":-0.6,"hi":0.2},
{"d":112,"g":"< 1","m":-0.12,"lo":-0.52,"hi":0.3},
{"d":113,"g":"< 1","m":-0.03,"lo":-0.45,"hi":0.42},
{"d":114,"g":"< 1","m":0.03,"lo":-0.4,"hi":0.45},
{"d":115,"g":"< 1","m":-0.14,"lo":-0.6,"hi":0.3},
{"d":116,"g":"< 1","m":-0.2,"lo":-0.7,"hi":0.25},
{"d":117,"g":"< 1","m":-0.08,"lo":-0.55,"hi":0.35},
{"d":118,"g":"< 1","m":0.01,"lo":-0.48,"hi":0.45},
{"d":119,"g":"< 1","m":0.03,"lo":-0.48,"hi":0.45},
{"d":120,"g":"< 1","m":-0.02,"lo":-0.5,"hi":0.42},
{"d":121,"g":"< 1","m":0.0,"lo":-0.52,"hi":0.43},
{"d":122,"g":"< 1","m":0.01,"lo":-0.48,"hi":0.45},
{"d":123,"g":"< 1","m":0.0,"lo":-0.5,"hi":0.44},
{"d":124,"g":"< 1","m":0.01,"lo":-0.48,"hi":0.45},
{"d":125,"g":"< 1","m":-0.05,"lo":-0.52,"hi":0.4},
{"d":126,"g":"< 1","m":-0.05,"lo":-0.52,"hi":0.35},
{"d":127,"g":"< 1","m":0.05,"lo":-0.45,"hi":0.4},
{"d":128,"g":"< 1","m":0.11,"lo":-0.35,"hi":0.42},
{"d":129,"g":"< 1","m":-0.17,"lo":-0.6,"hi":0.18},
{"d":130,"g":"< 1","m":-0.2,"lo":-0.62,"hi":0.12},
{"d":131,"g":"< 1","m":-0.26,"lo":-0.68,"hi":0.05},
{"d":132,"g":"< 1","m":-0.3,"lo":-0.75,"hi":0.02},
{"d":133,"g":"< 1","m":-0.34,"lo":-0.8,"hi":-0.02},
{"d":-7,"g":"1-2","m":0.21,"lo":-0.06,"hi":0.45},
{"d":-6,"g":"1-2","m":0.17,"lo":-0.08,"hi":0.42},
{"d":-5,"g":"1-2","m":0.22,"lo":-0.03,"hi":0.45},
{"d":-4,"g":"1-2","m":0.24,"lo":0.0,"hi":0.5},
{"d":-3,"g":"1-2","m":0.27,"lo":0.02,"hi":0.55},
{"d":-2,"g":"1-2","m":0.36,"lo":0.1,"hi":0.65},
{"d":-1,"g":"1-2","m":0.55,"lo":0.28,"hi":0.85},
{"d":0,"g":"1-2","m":0.92,"lo":0.65,"hi":1.2},
{"d":1,"g":"1-2","m":1.28,"lo":1.02,"hi":1.53},
{"d":2,"g":"1-2","m":1.22,"lo":0.95,"hi":1.5},
{"d":3,"g":"1-2","m":1.08,"lo":0.78,"hi":1.4},
{"d":4,"g":"1-2","m":0.79,"lo":0.45,"hi":1.15},
{"d":5,"g":"1-2","m":0.68,"lo":0.32,"hi":1.05},
{"d":6,"g":"1-2","m":0.53,"lo":0.16,"hi":0.92},
{"d":7,"g":"1-2","m":0.4,"lo":0.02,"hi":0.8},
{"d":8,"g":"1-2","m":0.28,"lo":-0.08,"hi":0.7},
{"d":9,"g":"1-2","m":0.17,"lo":-0.19,"hi":0.6},
{"d":10,"g":"1-2","m":0.24,"lo":-0.12,"hi":0.62},
{"d":11,"g":"1-2","m":0.2,"lo":-0.16,"hi":0.58},
{"d":12,"g":"1-2","m":0.22,"lo":-0.15,"hi":0.6},
{"d":13,"g":"1-2","m":0.17,"lo":-0.2,"hi":0.58},
{"d":14,"g":"1-2","m":0.19,"lo":-0.18,"hi":0.6},
{"d":15,"g":"1-2","m":0.27,"lo":-0.1,"hi":0.65},
{"d":16,"g":"1-2","m":0.28,"lo":-0.08,"hi":0.66},
{"d":17,"g":"1-2","m":0.42,"lo":0.08,"hi":0.75},
{"d":18,"g":"1-2","m":0.55,"lo":0.25,"hi":0.85},
{"d":19,"g":"1-2","m":0.68,"lo":0.4,"hi":0.95},
{"d":20,"g":"1-2","m":0.78,"lo":0.52,"hi":1.05},
{"d":21,"g":"1-2","m":0.92,"lo":0.68,"hi":1.18},
{"d":22,"g":"1-2","m":1.04,"lo":0.8,"hi":1.3},
{"d":23,"g":"1-2","m":1.15,"lo":0.9,"hi":1.42},
{"d":24,"g":"1-2","m":1.25,"lo":0.98,"hi":1.52},
{"d":25,"g":"1-2","m":1.29,"lo":1.03,"hi":1.55},
{"d":26,"g":"1-2","m":1.33,"lo":1.08,"hi":1.58},
{"d":27,"g":"1-2","m":1.29,"lo":1.05,"hi":1.55},
{"d":28,"g":"1-2","m":1.33,"lo":1.08,"hi":1.58},
{"d":29,"g":"1-2","m":1.28,"lo":1.04,"hi":1.55},
{"d":30,"g":"1-2","m":1.33,"lo":1.08,"hi":1.58},
{"d":31,"g":"1-2","m":1.4,"lo":1.15,"hi":1.62},
{"d":32,"g":"1-2","m":1.37,"lo":1.12,"hi":1.6},
{"d":33,"g":"1-2","m":1.5,"lo":1.25,"hi":1.7},
{"d":34,"g":"1-2","m":1.37,"lo":1.14,"hi":1.6},
{"d":35,"g":"1-2","m":1.42,"lo":1.18,"hi":1.64},
{"d":36,"g":"1-2","m":1.4,"lo":1.18,"hi":1.62},
{"d":37,"g":"1-2","m":1.37,"lo":1.15,"hi":1.6},
{"d":38,"g":"1-2","m":1.35,"lo":1.14,"hi":1.6},
{"d":39,"g":"1-2","m":1.34,"lo":1.14,"hi":1.6},
{"d":40,"g":"1-2","m":1.49,"lo":1.28,"hi":1.7},
{"d":41,"g":"1-2","m":1.54,"lo":1.34,"hi":1.72},
{"d":42,"g":"1-2","m":1.54,"lo":1.34,"hi":1.73},
{"d":43,"g":"1-2","m":1.55,"lo":1.35,"hi":1.73},
{"d":44,"g":"1-2","m":1.53,"lo":1.33,"hi":1.72},
{"d":45,"g":"1-2","m":1.52,"lo":1.32,"hi":1.71},
{"d":46,"g":"1-2","m":1.5,"lo":1.3,"hi":1.7},
{"d":47,"g":"1-2","m":1.5,"lo":1.3,"hi":1.7},
{"d":48,"g":"1-2","m":1.48,"lo":1.27,"hi":1.69},
{"d":49,"g":"1-2","m":1.47,"lo":1.26,"hi":1.68},
{"d":50,"g":"1-2","m":1.45,"lo":1.24,"hi":1.67},
{"d":51,"g":"1-2","m":1.44,"lo":1.23,"hi":1.66},
{"d":52,"g":"1-2","m":1.42,"lo":1.2,"hi":1.65},
{"d":53,"g":"1-2","m":1.42,"lo":1.2,"hi":1.64},
{"d":54,"g":"1-2","m":1.35,"lo":1.12,"hi":1.6},
{"d":55,"g":"1-2","m":1.31,"lo":1.08,"hi":1.57},
{"d":56,"g":"1-2","m":1.28,"lo":1.04,"hi":1.55},
{"d":57,"g":"1-2","m":1.3,"lo":1.05,"hi":1.56},
{"d":58,"g":"1-2","m":1.24,"lo":0.98,"hi":1.5},
{"d":59,"g":"1-2","m":1.17,"lo":0.9,"hi":1.45},
{"d":60,"g":"1-2","m":1.15,"lo":0.87,"hi":1.43},
{"d":61,"g":"1-2","m":1.16,"lo":0.87,"hi":1.44},
{"d":62,"g":"1-2","m":1.07,"lo":0.78,"hi":1.38},
{"d":63,"g":"1-2","m":1.0,"lo":0.7,"hi":1.3},
{"d":64,"g":"1-2","m":0.86,"lo":0.6,"hi":1.18},
{"d":65,"g":"1-2","m":0.86,"lo":0.6,"hi":1.18},
{"d":66,"g":"1-2","m":0.86,"lo":0.6,"hi":1.17},
{"d":67,"g":"1-2","m":0.84,"lo":0.58,"hi":1.15},
{"d":68,"g":"1-2","m":0.93,"lo":0.67,"hi":1.22},
{"d":69,"g":"1-2","m":0.92,"lo":0.65,"hi":1.21},
{"d":70,"g":"1-2","m":0.98,"lo":0.7,"hi":1.26},
{"d":71,"g":"1-2","m":0.9,"lo":0.62,"hi":1.2},
{"d":72,"g":"1-2","m":0.93,"lo":0.64,"hi":1.22},
{"d":73,"g":"1-2","m":0.93,"lo":0.64,"hi":1.22},
{"d":74,"g":"1-2","m":0.94,"lo":0.65,"hi":1.23},
{"d":75,"g":"1-2","m":0.92,"lo":0.62,"hi":1.22},
{"d":76,"g":"1-2","m":0.91,"lo":0.6,"hi":1.21},
{"d":77,"g":"1-2","m":0.86,"lo":0.55,"hi":1.17},
{"d":78,"g":"1-2","m":0.65,"lo":0.33,"hi":0.98},
{"d":79,"g":"1-2","m":0.55,"lo":0.22,"hi":0.9},
{"d":80,"g":"1-2","m":0.6,"lo":0.27,"hi":0.95},
{"d":81,"g":"1-2","m":0.58,"lo":0.25,"hi":0.93},
{"d":82,"g":"1-2","m":0.6,"lo":0.26,"hi":0.96},
{"d":83,"g":"1-2","m":0.7,"lo":0.35,"hi":1.05},
{"d":84,"g":"1-2","m":0.62,"lo":0.27,"hi":0.98},
{"d":85,"g":"1-2","m":0.55,"lo":0.2,"hi":0.92},
{"d":86,"g":"1-2","m":0.48,"lo":0.12,"hi":0.85},
{"d":87,"g":"1-2","m":0.48,"lo":0.12,"hi":0.85},
{"d":88,"g":"1-2","m":0.5,"lo":0.14,"hi":0.88},
{"d":89,"g":"1-2","m":0.53,"lo":0.16,"hi":0.92},
{"d":90,"g":"1-2","m":0.4,"lo":0.03,"hi":0.8},
{"d":91,"g":"1-2","m":0.42,"lo":0.05,"hi":0.83},
{"d":92,"g":"1-2","m":0.48,"lo":0.1,"hi":0.9},
{"d":93,"g":"1-2","m":0.48,"lo":0.1,"hi":0.92},
{"d":94,"g":"1-2","m":0.62,"lo":0.23,"hi":1.08},
{"d":95,"g":"1-2","m":0.82,"lo":0.42,"hi":1.28},
{"d":96,"g":"1-2","m":0.92,"lo":0.52,"hi":1.4},
{"d":97,"g":"1-2","m":0.98,"lo":0.56,"hi":1.45},
{"d":98,"g":"1-2","m":0.99,"lo":0.56,"hi":1.45},
{"d":99,"g":"1-2","m":0.85,"lo":0.42,"hi":1.3},
{"d":100,"g":"1-2","m":0.65,"lo":0.25,"hi":1.08},
{"d":101,"g":"1-2","m":0.55,"lo":0.18,"hi":0.95},
{"d":102,"g":"1-2","m":0.55,"lo":0.18,"hi":0.97},
{"d":103,"g":"1-2","m":0.72,"lo":0.33,"hi":1.15},
{"d":104,"g":"1-2","m":0.75,"lo":0.35,"hi":1.18},
{"d":105,"g":"1-2","m":0.6,"lo":0.2,"hi":1.0},
{"d":106,"g":"1-2","m":0.44,"lo":0.04,"hi":0.85},
{"d":107,"g":"1-2","m":0.59,"lo":0.2,"hi":1.0},
{"d":108,"g":"1-2","m":0.58,"lo":0.18,"hi":1.0},
{"d":109,"g":"1-2","m":0.65,"lo":0.25,"hi":1.08},
{"d":110,"g":"1-2","m":0.68,"lo":0.27,"hi":1.1},
{"d":111,"g":"1-2","m":0.57,"lo":0.16,"hi":1.0},
{"d":112,"g":"1-2","m":0.6,"lo":0.19,"hi":1.03},
{"d":113,"g":"1-2","m":0.63,"lo":0.22,"hi":1.07},
{"d":114,"g":"1-2","m":0.55,"lo":0.13,"hi":1.0},
{"d":115,"g":"1-2","m":0.5,"lo":0.08,"hi":0.95},
{"d":116,"g":"1-2","m":0.44,"lo":0.02,"hi":0.9},
{"d":117,"g":"1-2","m":0.27,"lo":-0.15,"hi":0.75},
{"d":118,"g":"1-2","m":0.5,"lo":0.05,"hi":0.98},
{"d":119,"g":"1-2","m":0.53,"lo":0.07,"hi":1.03},
{"d":120,"g":"1-2","m":0.53,"lo":0.05,"hi":1.05},
{"d":121,"g":"1-2","m":0.5,"lo":0.0,"hi":1.05},
{"d":122,"g":"1-2","m":0.65,"lo":0.1,"hi":1.2},
{"d":123,"g":"1-2","m":0.6,"lo":0.05,"hi":1.17},
{"d":124,"g":"1-2","m":0.7,"lo":0.12,"hi":1.3},
{"d":125,"g":"1-2","m":0.66,"lo":0.06,"hi":1.28},
{"d":126,"g":"1-2","m":0.68,"lo":0.05,"hi":1.32},
{"d":127,"g":"1-2","m":0.7,"lo":0.05,"hi":1.37},
{"d":128,"g":"1-2","m":0.67,"lo":0.0,"hi":1.36},
{"d":129,"g":"1-2","m":0.66,"lo":-0.05,"hi":1.38},
{"d":130,"g":"1-2","m":0.83,"lo":0.1,"hi":1.55},
{"d":131,"g":"1-2","m":0.7,"lo":-0.05,"hi":1.45},
{"d":132,"g":"1-2","m":0.88,"lo":0.1,"hi":1.62},
{"d":133,"g":"1-2","m":0.8,"lo":0.0,"hi":1.55},
{"d":-7,"g":"> 2","m":0.83,"lo":0.41,"hi":1.25},
{"d":-6,"g":"> 2","m":0.8,"lo":0.4,"hi":1.22},
{"d":-5,"g":"> 2","m":0.8,"lo":0.42,"hi":1.2},
{"d":-4,"g":"> 2","m":0.75,"lo":0.35,"hi":1.18},
{"d":-3,"g":"> 2","m":0.85,"lo":0.45,"hi":1.25},
{"d":-2,"g":"> 2","m":0.86,"lo":0.45,"hi":1.3},
{"d":-1,"g":"> 2","m":0.98,"lo":0.55,"hi":1.45},
{"d":0,"g":"> 2","m":1.28,"lo":0.85,"hi":1.8},
{"d":1,"g":"> 2","m":1.68,"lo":1.2,"hi":2.06},
{"d":2,"g":"> 2","m":1.67,"lo":1.25,"hi":2.1},
{"d":3,"g":"> 2","m":1.7,"lo":1.22,"hi":2.18},
{"d":4,"g":"> 2","m":1.78,"lo":1.22,"hi":2.35},
{"d":5,"g":"> 2","m":1.94,"lo":1.25,"hi":2.6},
{"d":6,"g":"> 2","m":1.95,"lo":1.3,"hi":2.62},
{"d":7,"g":"> 2","m":1.86,"lo":1.3,"hi":2.55},
{"d":8,"g":"> 2","m":2.15,"lo":1.43,"hi":2.89},
{"d":9,"g":"> 2","m":2.13,"lo":1.42,"hi":2.8},
{"d":10,"g":"> 2","m":2.08,"lo":1.3,"hi":2.72},
{"d":11,"g":"> 2","m":1.65,"lo":0.9,"hi":2.4},
{"d":12,"g":"> 2","m":1.15,"lo":0.62,"hi":2.15},
{"d":13,"g":"> 2","m":1.56,"lo":0.8,"hi":2.28},
{"d":14,"g":"> 2","m":1.54,"lo":0.75,"hi":2.22},
{"d":15,"g":"> 2","m":1.3,"lo":0.65,"hi":1.96},
{"d":16,"g":"> 2","m":1.36,"lo":0.68,"hi":2.0},
{"d":17,"g":"> 2","m":1.42,"lo":0.66,"hi":2.04},
{"d":18,"g":"> 2","m":1.36,"lo":0.65,"hi":1.96},
{"d":19,"g":"> 2","m":1.15,"lo":0.62,"hi":1.81},
{"d":20,"g":"> 2","m":1.3,"lo":0.75,"hi":1.95},
{"d":21,"g":"> 2","m":1.4,"lo":0.88,"hi":2.08},
{"d":22,"g":"> 2","m":1.48,"lo":1.0,"hi":2.16},
{"d":23,"g":"> 2","m":1.65,"lo":1.15,"hi":2.35},
{"d":24,"g":"> 2","m":2.03,"lo":1.5,"hi":2.59},
{"d":25,"g":"> 2","m":2.2,"lo":1.65,"hi":2.78},
{"d":26,"g":"> 2","m":2.36,"lo":1.79,"hi":2.93},
{"d":27,"g":"> 2","m":2.5,"lo":2.0,"hi":3.05},
{"d":28,"g":"> 2","m":2.68,"lo":2.26,"hi":3.25},
{"d":29,"g":"> 2","m":2.87,"lo":2.45,"hi":3.4},
{"d":30,"g":"> 2","m":3.0,"lo":2.57,"hi":3.48},
{"d":31,"g":"> 2","m":3.0,"lo":2.63,"hi":3.52},
{"d":32,"g":"> 2","m":3.09,"lo":2.65,"hi":3.57},
{"d":33,"g":"> 2","m":3.0,"lo":2.62,"hi":3.48},
{"d":34,"g":"> 2","m":3.03,"lo":2.62,"hi":3.5},
{"d":35,"g":"> 2","m":3.05,"lo":2.7,"hi":3.52},
{"d":36,"g":"> 2","m":3.2,"lo":2.75,"hi":3.6},
{"d":37,"g":"> 2","m":3.08,"lo":2.68,"hi":3.55},
{"d":38,"g":"> 2","m":3.03,"lo":2.62,"hi":3.55},
{"d":39,"g":"> 2","m":3.12,"lo":2.58,"hi":3.62},
{"d":40,"g":"> 2","m":3.1,"lo":2.6,"hi":3.64},
{"d":41,"g":"> 2","m":3.15,"lo":2.63,"hi":3.65},
{"d":42,"g":"> 2","m":2.9,"lo":2.36,"hi":3.45},
{"d":43,"g":"> 2","m":3.17,"lo":2.67,"hi":3.65},
{"d":44,"g":"> 2","m":3.17,"lo":2.67,"hi":3.63},
{"d":45,"g":"> 2","m":3.07,"lo":2.67,"hi":3.6},
{"d":46,"g":"> 2","m":3.34,"lo":2.7,"hi":3.92},
{"d":47,"g":"> 2","m":3.31,"lo":2.7,"hi":3.93},
{"d":48,"g":"> 2","m":3.31,"lo":2.7,"hi":3.93},
{"d":49,"g":"> 2","m":3.07,"lo":2.6,"hi":3.55},
{"d":50,"g":"> 2","m":2.95,"lo":2.55,"hi":3.5},
{"d":51,"g":"> 2","m":3.03,"lo":2.6,"hi":3.7},
{"d":52,"g":"> 2","m":3.05,"lo":2.5,"hi":3.77},
{"d":53,"g":"> 2","m":2.95,"lo":2.3,"hi":3.6},
{"d":54,"g":"> 2","m":2.64,"lo":1.95,"hi":3.1},
{"d":55,"g":"> 2","m":2.42,"lo":1.86,"hi":3.0},
{"d":56,"g":"> 2","m":2.41,"lo":1.86,"hi":3.0},
{"d":57,"g":"> 2","m":2.41,"lo":1.84,"hi":3.02},
{"d":58,"g":"> 2","m":2.4,"lo":1.79,"hi":3.15},
{"d":59,"g":"> 2","m":2.58,"lo":1.83,"hi":3.27},
{"d":60,"g":"> 2","m":2.5,"lo":1.83,"hi":3.2},
{"d":61,"g":"> 2","m":2.67,"lo":1.79,"hi":3.35},
{"d":62,"g":"> 2","m":2.29,"lo":1.9,"hi":3.1},
{"d":63,"g":"> 2","m":2.55,"lo":2.06,"hi":3.4},
{"d":64,"g":"> 2","m":2.75,"lo":2.0,"hi":3.54},
{"d":65,"g":"> 2","m":2.77,"lo":1.92,"hi":3.5},
{"d":66,"g":"> 2","m":2.77,"lo":1.9,"hi":3.5},
{"d":67,"g":"> 2","m":2.77,"lo":1.85,"hi":3.45},
{"d":68,"g":"> 2","m":2.52,"lo":1.75,"hi":3.4},
{"d":69,"g":"> 2","m":2.49,"lo":1.65,"hi":3.34},
{"d":70,"g":"> 2","m":2.42,"lo":1.59,"hi":3.25},
{"d":71,"g":"> 2","m":2.25,"lo":1.15,"hi":3.15},
{"d":72,"g":"> 2","m":2.14,"lo":1.05,"hi":3.12},
{"d":73,"g":"> 2","m":2.09,"lo":0.95,"hi":3.1},
{"d":74,"g":"> 2","m":1.94,"lo":1.15,"hi":3.05},
{"d":75,"g":"> 2","m":2.17,"lo":1.35,"hi":3.15},
{"d":76,"g":"> 2","m":2.2,"lo":1.3,"hi":3.24},
{"d":77,"g":"> 2","m":2.22,"lo":1.1,"hi":3.28},
{"d":78,"g":"> 2","m":2.25,"lo":0.88,"hi":3.25},
{"d":79,"g":"> 2","m":1.96,"lo":0.85,"hi":3.1},
{"d":80,"g":"> 2","m":1.93,"lo":0.9,"hi":3.3},
{"d":81,"g":"> 2","m":2.08,"lo":0.95,"hi":3.15},
{"d":82,"g":"> 2","m":2.06,"lo":0.97,"hi":3.0},
{"d":83,"g":"> 2","m":1.85,"lo":0.92,"hi":2.85},
{"d":84,"g":"> 2","m":1.69,"lo":1.1,"hi":2.72},
{"d":85,"g":"> 2","m":1.95,"lo":1.22,"hi":2.68},
{"d":86,"g":"> 2","m":1.95,"lo":1.15,"hi":2.6},
{"d":87,"g":"> 2","m":1.73,"lo":1.1,"hi":2.52},
{"d":88,"g":"> 2","m":1.74,"lo":1.08,"hi":2.49},
{"d":89,"g":"> 2","m":1.75,"lo":0.95,"hi":2.6},
{"d":90,"g":"> 2","m":1.86,"lo":1.05,"hi":2.65},
{"d":91,"g":"> 2","m":1.96,"lo":1.12,"hi":2.67},
{"d":92,"g":"> 2","m":1.96,"lo":0.95,"hi":2.66},
{"d":93,"g":"> 2","m":1.86,"lo":0.82,"hi":2.65},
{"d":94,"g":"> 2","m":1.88,"lo":1.1,"hi":2.63},
{"d":95,"g":"> 2","m":1.85,"lo":1.3,"hi":2.55},
{"d":96,"g":"> 2","m":1.76,"lo":1.4,"hi":2.46},
{"d":97,"g":"> 2","m":2.15,"lo":1.55,"hi":2.9},
{"d":98,"g":"> 2","m":2.36,"lo":1.5,"hi":3.12},
{"d":99,"g":"> 2","m":2.1,"lo":1.52,"hi":3.05},
{"d":100,"g":"> 2","m":1.96,"lo":1.3,"hi":2.95},
{"d":101,"g":"> 2","m":1.84,"lo":1.1,"hi":2.8},
{"d":102,"g":"> 2","m":1.4,"lo":1.02,"hi":2.26},
{"d":103,"g":"> 2","m":1.9,"lo":1.15,"hi":2.85},
{"d":104,"g":"> 2","m":2.0,"lo":1.3,"hi":3.05},
{"d":105,"g":"> 2","m":2.12,"lo":1.38,"hi":3.12},
{"d":106,"g":"> 2","m":2.24,"lo":1.42,"hi":3.13},
{"d":107,"g":"> 2","m":2.16,"lo":1.05,"hi":3.14},
{"d":108,"g":"> 2","m":1.95,"lo":1.15,"hi":3.05},
{"d":109,"g":"> 2","m":1.93,"lo":1.2,"hi":3.0},
{"d":110,"g":"> 2","m":1.93,"lo":1.2,"hi":2.95},
{"d":111,"g":"> 2","m":1.8,"lo":1.05,"hi":2.9},
{"d":112,"g":"> 2","m":1.7,"lo":1.0,"hi":2.95},
{"d":113,"g":"> 2","m":1.95,"lo":1.0,"hi":3.05},
{"d":114,"g":"> 2","m":1.98,"lo":0.9,"hi":3.07},
{"d":115,"g":"> 2","m":2.03,"lo":0.8,"hi":3.0},
{"d":116,"g":"> 2","m":1.86,"lo":0.7,"hi":2.88},
{"d":117,"g":"> 2","m":1.75,"lo":0.65,"hi":2.78},
{"d":118,"g":"> 2","m":1.69,"lo":0.68,"hi":2.65},
{"d":119,"g":"> 2","m":1.7,"lo":0.7,"hi":2.55},
{"d":120,"g":"> 2","m":1.28,"lo":0.74,"hi":2.26},
{"d":121,"g":"> 2","m":1.28,"lo":0.8,"hi":2.52},
{"d":122,"g":"> 2","m":1.45,"lo":0.75,"hi":2.35},
{"d":123,"g":"> 2","m":1.38,"lo":0.7,"hi":2.65},
{"d":124,"g":"> 2","m":1.7,"lo":0.65,"hi":2.83},
{"d":125,"g":"> 2","m":1.18,"lo":0.55,"hi":2.2},
{"d":126,"g":"> 2","m":1.42,"lo":0.45,"hi":2.28},
{"d":127,"g":"> 2","m":1.25,"lo":0.3,"hi":2.23},
{"d":128,"g":"> 2","m":1.12,"lo":0.12,"hi":2.35},
{"d":129,"g":"> 2","m":1.06,"lo":-0.05,"hi":2.42},
{"d":130,"g":"> 2","m":1.06,"lo":-0.15,"hi":2.44},
{"d":131,"g":"> 2","m":0.95,"lo":-0.2,"hi":2.2},
{"d":132,"g":"> 2","m":0.78,"lo":-0.25,"hi":2.1},
{"d":133,"g":"> 2","m":0.97,"lo":-0.2,"hi":2.03}
]
},
"vconcat": [
{
  "width": 989, "height": 516,
  "title": {"text": "a"},
  "data": {"name": "a"},
  "layer": [
    {"mark": {"type": "area", "fillOpacity": 0.6},
     "encoding": {
       "x": {"field": "d", "type": "quantitative", "scale": {"domain": [-7.7, 134.3], "nice": false, "zero": false}, "axis": {"values": [0, 50, 100], "title": "Days Since Symptom Onset", "titlePadding": 17}},
       "y": {"field": "lo", "type": "quantitative", "scale": {"domain": [-0.425, 0.907], "nice": false, "zero": false}, "axis": {"values": [-0.25, 0, 0.25, 0.5, 0.75], "title": "Resting Heart Rate Mean Z-Score", "titlePadding": 21, "labelExpr": "datum.value == 0 ? '0' : (datum.value < 0 ? '-' + format(-datum.value, '.2f') : format(datum.value, '.2f'))"}},
       "y2": {"field": "hi"},
       "fill": {"field": "g", "type": "nominal", "scale": {"domain": ["Negative", "Positive"], "range": ["#6a7ec0", "#d9666c"]},
         "legend": {"title": "Swab Test Result:", "legendX": 508, "legendY": 41, "titlePadding": 24, "columnPadding": 32,
           "encode": {"symbols": {"update": {"fillOpacity": {"value": 0.6}}}}}}
     }},
    {"mark": {"type": "line", "strokeWidth": 1.6},
     "encoding": {
       "x": {"field": "d", "type": "quantitative"},
       "y": {"field": "m", "type": "quantitative"},
       "stroke": {"field": "g", "type": "nominal", "scale": {"domain": ["Negative", "Positive"], "range": ["#3d4f9c", "#a83232"]}, "legend": null}
     }}
  ]
},
{
  "width": 990, "height": 506,
  "title": {"text": "b"},
  "data": {"name": "b"},
  "layer": [
    {"mark": {"type": "area", "fillOpacity": 0.55},
     "encoding": {
       "x": {"field": "d", "type": "quantitative", "scale": {"domain": [-7.6, 134.0], "nice": false, "zero": false}, "axis": {"values": [0, 50, 100], "title": "Days Since Symptom Onset", "titlePadding": 17}},
       "y": {"field": "lo", "type": "quantitative", "scale": {"domain": [-1.05, 4.05], "nice": false, "zero": false}, "axis": {"values": [-1, 0, 1, 2, 3, 4], "title": "Resting Heart Rate Mean Z-Score", "titlePadding": 48, "labelExpr": "datum.value < 0 ? '-' + format(-datum.value, 'd') : format(datum.value, 'd')"}},
       "y2": {"field": "hi"},
       "fill": {"field": "g", "type": "nominal", "scale": {"domain": ["< 1", "1-2", "> 2"], "range": ["#d9666c", "#6a7ec0", "#5fb3a5"]},
         "legend": {"title": "Long2:", "legendX": 573, "legendY": 31, "titlePadding": 8, "columnPadding": 22,
           "encode": {
             "symbols": {"update": {"fillOpacity": {"value": 0.6}}},
             "labels": {"update": {"text": {"signal": "datum.index == 0 ? '\u200b\u2002\u2002' + datum.label + '\u2002\u2002\u2002\u2002\u200b' : (datum.index == 2 ? '\u200b\u2002\u2002' + datum.label : datum.label)"}}}
           }}}
     }},
    {"mark": {"type": "line", "strokeWidth": 1.6},
     "encoding": {
       "x": {"field": "d", "type": "quantitative"},
       "y": {"field": "m", "type": "quantitative"},
       "stroke": {"field": "g", "type": "nominal", "scale": {"domain": ["< 1", "1-2", "> 2"], "range": ["#a83232", "#3b4a9a", "#1a6b5b"]}, "legend": null}
     }}
  ]
}
]
}
